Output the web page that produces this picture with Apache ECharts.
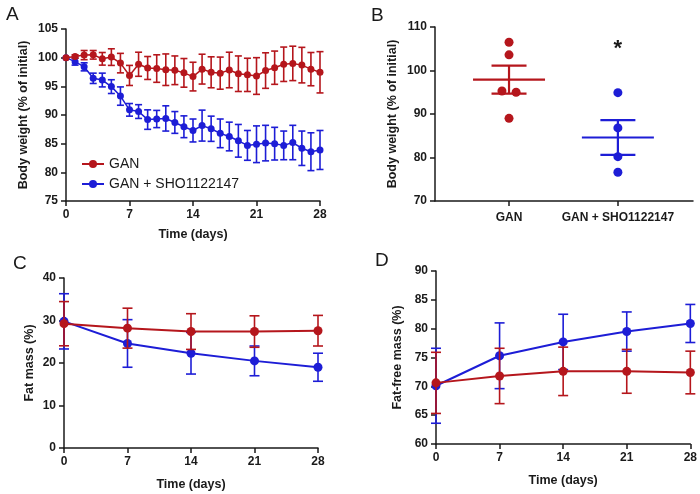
<!DOCTYPE html>
<html><head><meta charset="utf-8">
<script src="https://cdn.jsdelivr.net/npm/echarts@6/dist/echarts.min.js"></script>
<style>html,body{margin:0;padding:0;background:#fff}#c{width:700px;height:494px}</style>
</head><body><div id="c"></div>
<script>
// ---------- DATA ----------
const daysA = [0,1,2,3,4,5,6,7,8,9,10,11,12,13,14,15,16,17,18,19,20,21,22,23,24,25,26,27,28];
const ganA = [100,100.2,100.45,100.5,99.8,100.1,99.05,96.9,98.85,98.2,98.1,97.9,97.8,97.35,96.7,98.0,97.45,97.3,97.85,97.2,97.0,96.8,97.75,98.25,98.85,99.0,98.7,98.0,97.45];
const ganAErr = [0,0.3,0.8,0.75,1.1,1.45,1.7,1.75,2.1,2.0,2.4,2.75,2.5,2.5,2.5,2.6,2.7,2.8,3.1,3.1,2.9,3.2,3.1,2.9,3.0,3.0,3.1,2.9,3.6];
const shoA = [100,99.3,98.4,96.4,96.1,94.95,93.3,90.9,90.6,89.2,89.3,89.4,88.7,87.95,87.3,88.15,87.6,86.8,86.25,85.5,84.7,84.9,85.1,85.0,84.7,85.2,84.2,83.6,83.9];
const shoAErr = [0,0.6,0.7,0.9,1.2,1.2,1.6,1.1,1.2,1.7,1.5,2.2,1.9,1.9,2.0,2.7,2.2,2.5,2.5,2.85,2.6,3.2,3.1,2.85,2.5,3.0,3.0,3.3,3.4];

const groupsB = ['GAN','GAN + SHO1122147'];
const ganB = [106.5,103.6,95.3,95.0,89.0];
const shoB = [94.9,86.8,80.2,76.6];
const meanB = [97.9,84.6];
const semB = [3.2,4.0];

const daysCD = [0,7,14,21,28];
const ganC = [29.25,28.2,27.4,27.4,27.6];
const ganCErr = [5.2,4.7,4.2,3.7,3.6];
const shoC = [29.8,24.6,22.3,20.5,19.0];
const shoCErr = [6.5,5.6,4.9,3.5,3.3];
const ganD = [70.6,71.8,72.6,72.6,72.4];
const ganDErr = [5.3,4.8,4.2,3.8,3.7];
const shoD = [70.1,75.3,77.7,79.5,80.9];
const shoDErr = [6.5,5.7,4.8,3.4,3.3];

const seriesNames = ['GAN','GAN + SHO1122147'];

// ---------- STYLE ----------
const RED = '#b5161c', BLUE = '#1d1dd6', INK = '#1a1a1a';
const FONT = "'Liberation Sans', Arial, sans-serif";

function pairs(xs, ys){ return xs.map((x,i)=>[x, ys[i]]); }
function errData(xs, ys, es){ return xs.map((x,i)=>[x, ys[i]-es[i], ys[i]+es[i]]); }

function errSeries(idx, data, color, cap, z){
  return {
    type:'custom', xAxisIndex:idx, yAxisIndex:idx, data:data, z:z, silent:true,
    renderItem:function(params, api){
      const x = api.value(0);
      const lo = api.coord([x, api.value(1)]);
      const hi = api.coord([x, api.value(2)]);
      if (Math.abs(lo[1]-hi[1]) < 0.5) return null;
      const st = {stroke:color, lineWidth:1.6};
      return {type:'group', children:[
        {type:'line', shape:{x1:lo[0],y1:lo[1],x2:hi[0],y2:hi[1]}, style:st},
        {type:'line', shape:{x1:hi[0]-cap,y1:hi[1],x2:hi[0]+cap,y2:hi[1]}, style:st},
        {type:'line', shape:{x1:lo[0]-cap,y1:lo[1],x2:lo[0]+cap,y2:lo[1]}, style:st}
      ]};
    }
  };
}

function lineSeries(name, idx, data, color, sym, lw, z){
  return {type:'line', name:name, xAxisIndex:idx, yAxisIndex:idx, data:data, z:z,
    symbol:'circle', symbolSize:sym, showSymbol:true,
    lineStyle:{color:color, width:lw}, itemStyle:{color:color}, emphasis:{disabled:true}};
}

// jitter for individual points in B (layout only)
function jitter(vals){
  return vals.map((v,i)=>{
    const near = vals.map((w,j)=>j).filter(j=>j!==i && Math.abs(vals[j]-v)<1.5);
    if (!near.length) return 0;
    return (i < near[0]) ? -0.065 : 0.065;
  });
}

const axisLine = {show:true, onZero:false, lineStyle:{color:INK, width:1.5}};
const axisTick = {show:true, length:5, lineStyle:{color:INK, width:1.5}};
const axisLabel = {color:INK, fontSize:12, fontWeight:'bold', fontFamily:FONT};
const nameStyle = {color:INK, fontSize:12.5, fontWeight:'bold', fontFamily:FONT};

function valAxis(gi, min, max, interval, name, gap, extra){
  return Object.assign({type:'value', gridIndex:gi, min:min, max:max, interval:interval,
    name:name, nameLocation:'middle', nameGap:gap, nameTextStyle:nameStyle,
    axisLine:axisLine, axisTick:axisTick, axisLabel:Object.assign({margin:8},axisLabel),
    splitLine:{show:false}}, extra||{});
}

const jG = jitter(ganB), jS = jitter(shoB);

const option = {
  animation:false,
  textStyle:{fontFamily:FONT},
  grid:[
    {left:66, top:29, width:254, height:172},
    {left:435, top:27, width:258, height:174},
    {left:64, top:278, width:254, height:170},
    {left:436, top:271, width:257, height:173}
  ],
  xAxis:[
    valAxis(0, 0, 28, 7, 'Time (days)', 27),
    valAxis(1, -0.68, 1.69, null, '', 0, {
      axisTick:Object.assign({}, axisTick, {customValues:[0,1]}),
      axisLabel:Object.assign({margin:11}, axisLabel, {customValues:[0,1], formatter:v=>groupsB[Math.round(v)]})
    }),
    valAxis(2, 0, 28, 7, 'Time (days)', 30),
    valAxis(3, 0, 28, 7, 'Time (days)', 30)
  ],
  yAxis:[
    valAxis(0, 75, 105, 5, 'Body weight (% of initial)', 36),
    valAxis(1, 70, 110, 10, 'Body weight (% of initial)', 36),
    valAxis(2, 0, 40, 10, 'Fat mass (%)', 28),
    valAxis(3, 60, 90, 5, 'Fat-free mass (%)', 32)
  ],
  legend:{
    data:seriesNames, left:76, top:152, orient:'vertical', itemGap:6,
    itemWidth:22, itemHeight:10,
    textStyle:{color:INK, fontSize:14, fontFamily:FONT}
  },
  title:[
    {text:'A', left:1, top:0, textStyle:{fontSize:19, fontWeight:'normal', color:INK, fontFamily:FONT}},
    {text:'B', left:366, top:1, textStyle:{fontSize:19, fontWeight:'normal', color:INK, fontFamily:FONT}},
    {text:'C', left:8, top:249, textStyle:{fontSize:19, fontWeight:'normal', color:INK, fontFamily:FONT}},
    {text:'D', left:370, top:246, textStyle:{fontSize:19, fontWeight:'normal', color:INK, fontFamily:FONT}}
  ],
  series:[
    // Panel A
    errSeries(0, errData(daysA, shoA, shoAErr), BLUE, 3.5, 2),
    lineSeries(seriesNames[1], 0, pairs(daysA, shoA), BLUE, 7, 1.5, 3),
    errSeries(0, errData(daysA, ganA, ganAErr), RED, 3.5, 4),
    lineSeries(seriesNames[0], 0, pairs(daysA, ganA), RED, 7, 1.5, 5),
    // Panel B
    {type:'scatter', xAxisIndex:1, yAxisIndex:1, symbolSize:9, itemStyle:{color:RED, opacity:1},
      data:ganB.map((v,i)=>[0 + jG[i], v]), z:3},
    {type:'scatter', xAxisIndex:1, yAxisIndex:1, symbolSize:9, itemStyle:{color:BLUE, opacity:1},
      data:shoB.map((v,i)=>[1 + jS[i], v]), z:3},
    {type:'custom', xAxisIndex:1, yAxisIndex:1, z:4, silent:true,
      data:meanB.map((m,i)=>[i, m, m-semB[i], m+semB[i]]),
      renderItem:function(params, api){
        const x = api.value(0);
        const c = api.coord([x, api.value(1)]);
        const lo = api.coord([x, api.value(2)]);
        const hi = api.coord([x, api.value(3)]);
        const color = params.dataIndex === 0 ? RED : BLUE;
        const st = {stroke:color, lineWidth:2.2};
        return {type:'group', children:[
          {type:'line', shape:{x1:c[0]-36,y1:c[1],x2:c[0]+36,y2:c[1]}, style:st},
          {type:'line', shape:{x1:lo[0],y1:lo[1],x2:hi[0],y2:hi[1]}, style:st},
          {type:'line', shape:{x1:hi[0]-17.5,y1:hi[1],x2:hi[0]+17.5,y2:hi[1]}, style:st},
          {type:'line', shape:{x1:lo[0]-17.5,y1:lo[1],x2:lo[0]+17.5,y2:lo[1]}, style:st}
        ]};
      }
    },
    {type:'custom', xAxisIndex:1, yAxisIndex:1, z:5, silent:true, data:[[1, 105]],
      renderItem:function(params, api){
        const p = api.coord([api.value(0), api.value(1)]);
        return {type:'text', x:p[0], y:p[1], style:{text:'*', fill:INK, font:"bold 22px 'Liberation Sans', Arial", align:'center', verticalAlign:'middle'}};
      }
    },
    // Panel C
    errSeries(2, errData(daysCD, shoC, shoCErr), BLUE, 5, 2),
    lineSeries(seriesNames[1], 2, pairs(daysCD, shoC), BLUE, 9, 2, 3),
    errSeries(2, errData(daysCD, ganC, ganCErr), RED, 5, 4),
    lineSeries(seriesNames[0], 2, pairs(daysCD, ganC), RED, 9, 2, 5),
    // Panel D
    errSeries(3, errData(daysCD, shoD, shoDErr), BLUE, 5, 2),
    lineSeries(seriesNames[1], 3, pairs(daysCD, shoD), BLUE, 9, 2, 3),
    errSeries(3, errData(daysCD, ganD, ganDErr), RED, 5, 4),
    lineSeries(seriesNames[0], 3, pairs(daysCD, ganD), RED, 9, 2, 5)
  ]
};

const chart = echarts.init(document.getElementById('c'), null, {renderer:'canvas'});
chart.setOption(option);
</script>
</body></html>
